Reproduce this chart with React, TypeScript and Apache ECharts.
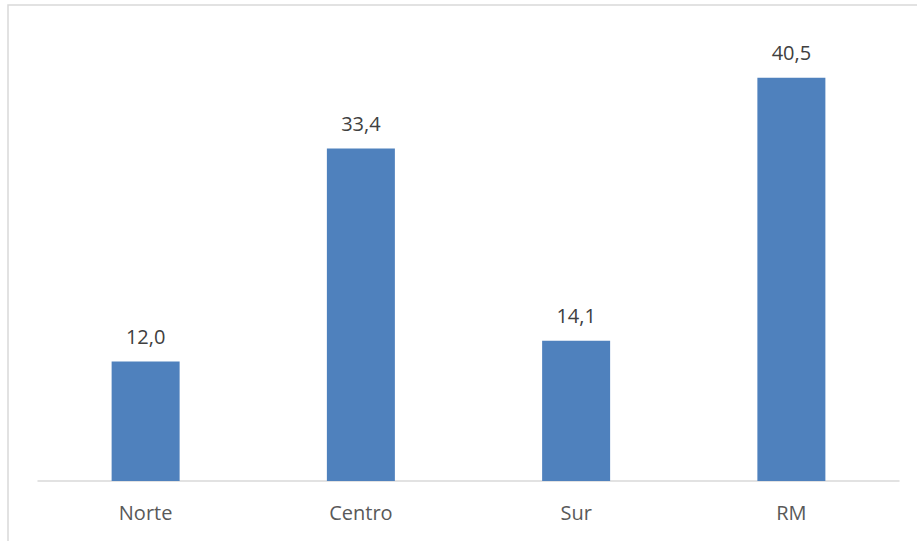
import React, { useEffect, useRef } from "react";
import * as echarts from "echarts";

const categories = ["Norte", "Centro", "Sur", "RM"];
const values = [12.0, 33.4, 14.1, 40.5];

export default function App() {
  const ref = useRef<HTMLDivElement>(null);
  useEffect(() => {
    document.body.style.margin = "0";
    const chart = echarts.init(ref.current!, null, { renderer: "svg" });
    chart.setOption({
      animation: false,
      backgroundColor: "#ffffff",
      graphic: [
        {
          type: "rect",
          shape: { x: 8, y: 5, width: 1200, height: 1200 },
          style: { fill: "none", stroke: "#d9d9d9", lineWidth: 1.5 },
          silent: true,
        },
      ],
      grid: { left: 38, right: 18, top: 33, bottom: 60 },
      xAxis: {
        type: "category",
        data: categories,
        axisLine: { lineStyle: { color: "#d9d9d9", width: 1.5 } },
        axisTick: { show: false },
        axisLabel: {
          color: "#595959",
          fontFamily: "Open Sans",
          fontSize: 20,
          lineHeight: 20,
          margin: 21,
        },
      },
      yAxis: {
        type: "value",
        min: 0,
        max: 45,
        show: false,
        splitLine: { show: false },
      },
      series: [
        {
          type: "bar",
          data: values,
          barWidth: 68,
          itemStyle: { color: "#4f81bd" },
          label: {
            show: true,
            position: "top",
            distance: 15,
            color: "#404040",
            fontFamily: "Open Sans",
            fontSize: 20,
            lineHeight: 20,
            formatter: (p: any) => p.value.toFixed(1).replace(".", ","),
          },
        },
      ],
    });
    return () => chart.dispose();
  }, []);
  return <div ref={ref} style={{ width: 917, height: 541 }} />;
}
